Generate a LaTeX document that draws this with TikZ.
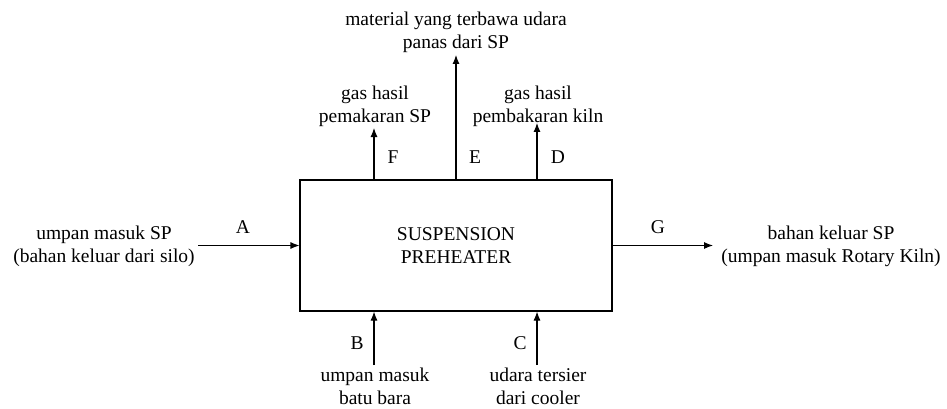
\documentclass[tikz,border=0pt]{standalone}
\usepackage{fontspec}
\setmainfont{Liberation Serif}
\usetikzlibrary{arrows.meta}
\begin{document}
\begin{tikzpicture}[x=1pt,y=-1pt,
  lbl/.style={font=\fontsize{19.5}{23}\selectfont, align=center, inner sep=0pt},
  letter/.style={font=\fontsize{19.5}{23}\selectfont, inner sep=0pt},
  spbox/.style={draw, line width=1.1pt, minimum width=312pt, minimum height=131pt, inner sep=0pt,
    font=\fontsize{19.5}{23}\selectfont, align=center},
  flow/.style={line width=1.1pt, -{Latex[length=9pt,width=7pt]}}]
\useasboundingbox (0,0) rectangle (947,409);
\node[spbox] (sp) at (456,245.5) {SUSPENSION\\PREHEATER};
\node[lbl] (tin) at (104,246) {umpan masuk SP\\(bahan keluar dari silo)};
\node[lbl] (tout) at (831,246) {bahan keluar SP\\(umpan masuk Rotary Kiln)};
\node[lbl] (tE) at (456,32) {material yang terbawa udara\\panas dari SP};
\node[lbl] (tF) at (375,106) {gas hasil\\pemakaran SP};
\node[lbl] (tD) at (538,106) {gas hasil\\pembakaran kiln};
\node[lbl] (tB) at (375,386.5) {umpan masuk\\batu bara};
\node[lbl] (tC) at (538,386.5) {udara tersier\\dari cooler};
\coordinate (Ain) at (198,245.5);
\coordinate (Gout) at (713,245.5);
\coordinate (Fend) at (374,128);
\coordinate (Eend) at (456,55);
\coordinate (Dend) at (537,123);
\coordinate (Bstart) at (374,365);
\coordinate (Cstart) at (537,365);
\draw[flow] (Ain) -- (sp.west);
\draw[flow] (sp.east) -- (Gout);
\draw[flow] (sp.north -| Fend) -- (Fend);
\draw[flow] (sp.north) -- (Eend);
\draw[flow] (sp.north -| Dend) -- (Dend);
\draw[flow] (Bstart) -- (sp.south -| Bstart);
\draw[flow] (Cstart) -- (sp.south -| Cstart);
\node[letter] (lA) at (243,227) {A};
\node[letter] (lG) at (658,227) {G};
\node[letter] (lF) at (393,157) {F};
\node[letter] (lE) at (475,157) {E};
\node[letter] (lD) at (558,157) {D};
\node[letter] (lB) at (357,343) {B};
\node[letter] (lC) at (520,343) {C};
\end{tikzpicture}
\end{document}
